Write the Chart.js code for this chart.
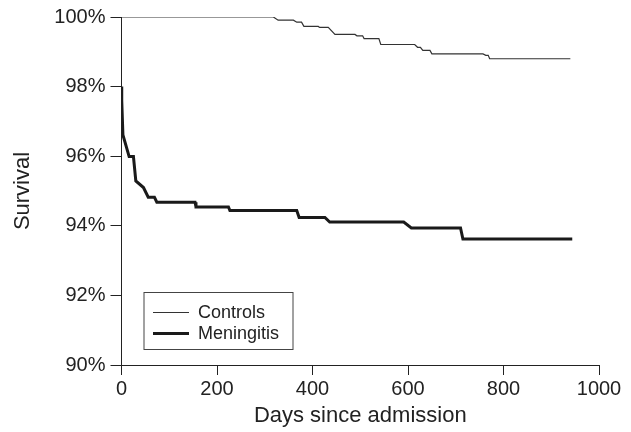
<!DOCTYPE html>
<html>
<head>
<meta charset="utf-8">
<script src="https://cdn.jsdelivr.net/npm/chart.js@4/dist/chart.umd.min.js"></script>
<style>
  html, body { margin: 0; padding: 0; background: #ffffff; }
  #wrap { width: 631px; height: 432px; }
</style>
</head>
<body>
<div id="wrap"><canvas id="c" width="631" height="432"></canvas></div>
<script>
// ---- Data (days since admission, survival %) ----
const controlsDays = [0, 318, 328, 360, 367, 377, 382, 412, 415, 433, 447, 489, 493, 505, 508, 539, 543, 614, 620, 626, 631, 646, 650, 757, 763, 768, 771, 940];
const controlsSurv = [100, 100, 99.91, 99.91, 99.85, 99.85, 99.73, 99.73, 99.70, 99.70, 99.50, 99.50, 99.46, 99.46, 99.38, 99.38, 99.21, 99.21, 99.13, 99.13, 99.04, 99.04, 98.94, 98.94, 98.90, 98.90, 98.80, 98.80];

const meningDays = [0, 0.5, 3, 16, 25, 30, 46, 56, 69, 74, 154, 156, 224, 227, 363, 367, 372, 426, 436, 591, 607, 710, 715, 944];
const meningSurv = [98.0, 97.6, 96.61, 95.99, 95.99, 95.29, 95.10, 94.82, 94.82, 94.68, 94.68, 94.54, 94.54, 94.44, 94.44, 94.44, 94.24, 94.24, 94.11, 94.11, 93.94, 93.94, 93.62, 93.62];

const seriesLabels = ["Controls", "Meningitis"];
const xTickValues = [0, 200, 400, 600, 800, 1000];
const yTickValues = [90, 92, 94, 96, 98, 100];

const FONT = '"Liberation Sans", Arial, Helvetica, sans-serif';
const INK = '#222222';

function toPoints(xs, ys) { return xs.map((x, i) => ({ x: x, y: ys[i] })); }

// Legend drawn inside the plot area, as in the reference
const boxLegend = {
  id: 'boxLegend',
  afterDraw(chart) {
    const ctx = chart.ctx;
    const a = chart.chartArea;
    const left = a.left + 22.5, top = a.top + 275.5, w = 149, h = 57;
    ctx.save();
    ctx.fillStyle = '#ffffff';
    ctx.fillRect(left, top, w, h);
    ctx.strokeStyle = '#444444';
    ctx.lineWidth = 1;
    ctx.strokeRect(left, top, w, h);
    ctx.font = '18px ' + FONT;
    ctx.textBaseline = 'middle';
    chart.data.datasets.forEach((ds, i) => {
      const y = top + 20 + i * 21;
      ctx.strokeStyle = ds.borderColor;
      ctx.lineWidth = ds.borderWidth;
      ctx.beginPath();
      ctx.moveTo(left + 9, y);
      ctx.lineTo(left + 45, y);
      ctx.stroke();
      ctx.fillStyle = INK;
      ctx.fillText(ds.label, left + 54, y + 1);
    });
    ctx.restore();
  }
};

new Chart(document.getElementById('c'), {
  type: 'line',
  data: {
    datasets: [
      {
        label: seriesLabels[0],
        data: toPoints(controlsDays, controlsSurv),
        borderColor: '#333333',
        borderWidth: 1.2,
        pointRadius: 0,
        tension: 0,
        fill: false
      },
      {
        label: seriesLabels[1],
        data: toPoints(meningDays, meningSurv),
        borderColor: '#1a1a1a',
        borderWidth: 3,
        pointRadius: 0,
        tension: 0,
        fill: false
      }
    ]
  },
  options: {
    responsive: false,
    animation: false,
    layout: { padding: { top: 15, right: 32, left: 0, bottom: 0 } },
    plugins: {
      legend: { display: false },
      tooltip: { enabled: false }
    },
    scales: {
      x: {
        type: 'linear',
        min: 0,
        max: 1000,
        afterBuildTicks(scale) { scale.ticks = xTickValues.map(v => ({ value: v })); },
        afterFit(scale) { scale.height = 67; },
        grid: { drawOnChartArea: false, drawTicks: true, tickLength: 10, color: INK, tickColor: INK },
        border: { display: true, color: INK, width: 1 },
        ticks: { color: INK, font: { family: FONT, size: 20 }, padding: 2, maxRotation: 0, callback: v => String(v) },
        title: { display: true, text: 'Days since admission', color: INK, font: { family: FONT, size: 22 }, padding: { top: 0, bottom: 3 } }
      },
      y: {
        type: 'linear',
        min: 90,
        max: 100,
        afterBuildTicks(scale) { scale.ticks = yTickValues.map(v => ({ value: v })); },
        afterFit(scale) { scale.width = 121.5; },
        grid: { drawOnChartArea: false, drawTicks: true, tickLength: 11, color: INK, tickColor: INK },
        border: { display: true, color: INK, width: 1 },
        ticks: { color: INK, font: { family: FONT, size: 20 }, padding: 5, callback: v => v + '%' },
        title: { display: true, text: 'Survival', color: INK, font: { family: FONT, size: 22 }, padding: { top: 10, bottom: 0 } }
      }
    }
  },
  plugins: [boxLegend]
});
</script>
</body>
</html>
